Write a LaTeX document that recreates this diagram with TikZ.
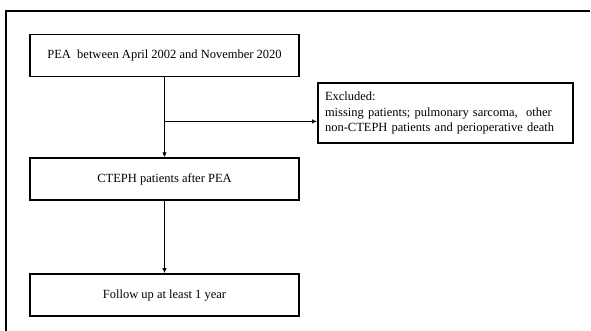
\documentclass[tikz,border=0pt]{standalone}
\usepackage{fontspec}
\setmainfont{Liberation Serif}
\usetikzlibrary{arrows.meta,positioning,calc}

\begin{document}
\begin{tikzpicture}[x=1pt,y=-1pt,
  stepbox/.style={draw=black,line width=1.8pt,minimum width=269pt,minimum height=42pt,
    inner sep=0pt,font=\fontsize{12.5}{15.7}\selectfont},
  exclbox/.style={stepbox,minimum width=255pt,minimum height=60pt,align=left,
    text width=241pt},
  flow/.style={line width=1.6pt,-{Latex[length=5pt,width=4.5pt]}}
  ]
  \useasboundingbox (0,0) rectangle (591,330);
  % outer frame, runs off the right and bottom edge
  \draw[line width=2.2pt] (6,340) -- (6,11) -- (590,11);

  \node[stepbox] (pea) at (164.5,55.5) {PEA\ \ between April 2002 and November 2020};
  \node[stepbox,below=80pt of pea] (cteph) {CTEPH patients after PEA};
  \node[stepbox,below=72pt of cteph] (follow) {Follow up at least 1 year};
  \node[exclbox] (excl) at (445.5,113) {Excluded:\\
    missing patients; pulmonary sarcoma,\ \ other\\
    non-CTEPH patients and perioperative death};

  \coordinate (branch) at ($(pea.south)+(0,44)$);
  \draw[flow] (pea) -- (cteph);
  \draw[flow] (branch) -- (branch -| excl.west);
  \draw[flow] (cteph) -- (follow);
\end{tikzpicture}
\end{document}
